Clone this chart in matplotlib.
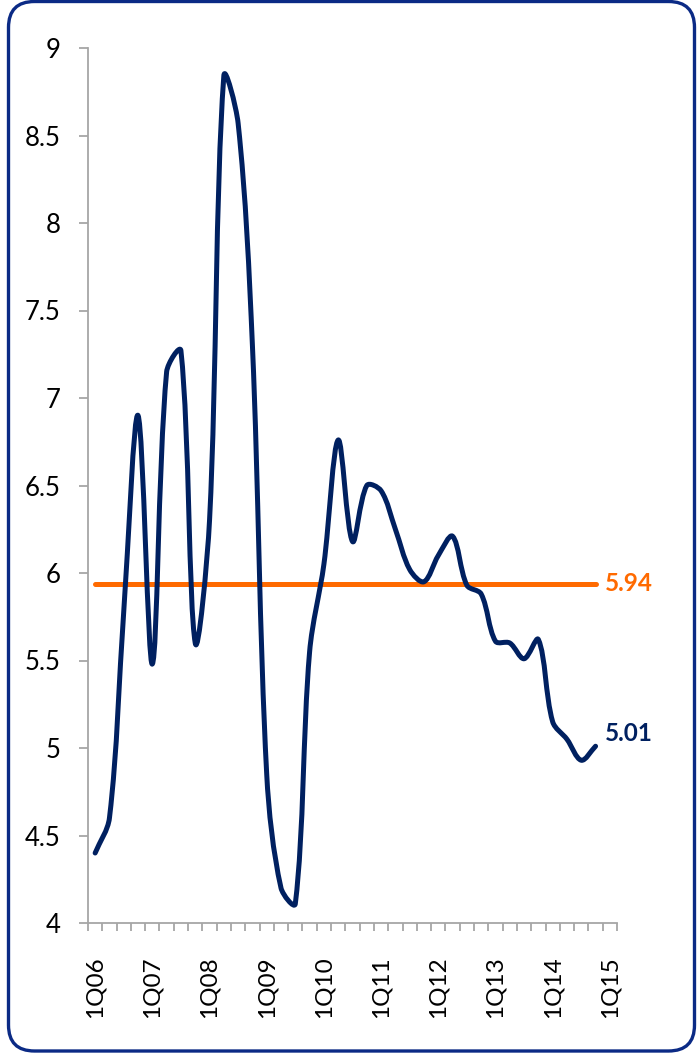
import numpy as np
import matplotlib.pyplot as plt
from matplotlib.path import Path
from matplotlib.patches import PathPatch, FancyBboxPatch
from matplotlib.transforms import IdentityTransform

plt.rcParams['font.family'] = ['Lato', 'DejaVu Sans']

quarters = ['%dQ%02d' % (q, y) for y in range(6, 16) for q in range(1, 5)][:37]
values = [4.40, 4.60, 5.78, 6.90, 5.48, 7.15, 7.27, 5.60, 6.30, 8.84,
          8.57, 7.30, 4.85, 4.20, 4.11, 5.55, 6.05, 6.76, 6.18, 6.50,
          6.47, 6.25, 6.02, 5.95, 6.10, 6.21, 5.93, 5.88, 5.61, 5.60,
          5.51, 5.62, 5.15, 5.05, 4.93, 5.01]
average = 5.94

navy = '#002060'
orange = '#FF6A00'
grey = '#A6A6A6'

# pixels per category and per unit, so the smoothing works on screen distances
SX, SY = 14.35, 175.0


def smooth_path(x, y, t=1 / 3):
    # bezier segments whose control arms are scaled by neighbouring segment lengths
    pts = np.column_stack([np.asarray(x) * SX, np.asarray(y) * SY]).astype(float)
    n = len(pts)
    verts = [pts[0]]
    codes = [Path.MOVETO]
    for i in range(n - 1):
        p0 = pts[max(i - 1, 0)]
        p1 = pts[i]
        p2 = pts[i + 1]
        p3 = pts[min(i + 2, n - 1)]
        d01 = np.hypot(*(p1 - p0))
        d12 = np.hypot(*(p2 - p1))
        d23 = np.hypot(*(p3 - p2))
        c1 = p1 + (p2 - p0) * t * d12 / max(d01 + d12, 1e-9)
        c2 = p2 - (p3 - p1) * t * d12 / max(d12 + d23, 1e-9)
        verts += [c1, c2, p2]
        codes += [Path.CURVE4] * 3
    verts = np.array(verts) / [SX, SY]
    return Path(verts, codes)


fig = plt.figure(figsize=(6.97, 10.53), dpi=100)
ax = fig.add_axes([88 / 697, 130 / 1053, 529 / 697, 875 / 1053])

xs = np.arange(len(values))
ax.add_patch(PathPatch(smooth_path(xs, values), facecolor='none', edgecolor=navy,
                       lw=3.6, capstyle='round', joinstyle='round', zorder=3))
ax.plot([xs[0], xs[-1]], [average, average], color=orange, lw=3.6,
        solid_capstyle='round', zorder=2)

ax.annotate('%.2f' % average, (xs[-1], average), xytext=(7, 0), textcoords='offset points',
            color=orange, fontsize=17.5, fontweight='bold', va='center', ha='left')
ax.annotate('%.2f' % values[-1], (xs[-1], values[-1]), xytext=(7, 9), textcoords='offset points',
            color=navy, fontsize=17.5, fontweight='bold', va='center', ha='left')

ax.set_xlim(-0.5, len(quarters) - 0.5)
ax.set_ylim(4, 9)
ax.set_yticks(np.arange(4, 9.01, 0.5))
ax.set_yticklabels(['%g' % v for v in np.arange(4, 9.01, 0.5)])

ax.set_xticks(np.arange(0, len(quarters), 4))
ax.set_xticklabels(quarters[::4], rotation=90, va='top')
ax.set_xticks(np.arange(-0.5, len(quarters), 1), minor=True)

ax.tick_params(axis='x', which='major', length=0, pad=24, labelsize=17.5)
ax.tick_params(axis='x', which='minor', length=6, width=1.3, color=grey, direction='out')
ax.tick_params(axis='y', length=6.5, width=1.3, color=grey, pad=13, labelsize=18.5)

for side in ['top', 'right']:
    ax.spines[side].set_visible(False)
for side in ['left', 'bottom']:
    ax.spines[side].set_color(grey)
    ax.spines[side].set_linewidth(1.3)

frame = FancyBboxPatch((8.5, 2), 686, 1049.5, boxstyle='round,pad=0,rounding_size=26',
                       facecolor='none', edgecolor='#0B2A85', lw=2.4,
                       transform=IdentityTransform())
fig.add_artist(frame)

fig.savefig('out.png', dpi=100)
